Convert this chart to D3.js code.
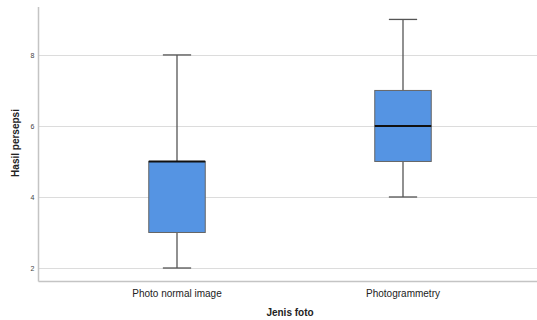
<!DOCTYPE html>
<html><head><meta charset="utf-8">
<script src="https://cdn.jsdelivr.net/npm/d3@7"></script>
<style>body{margin:0;background:#fff}svg{display:block}</style>
</head><body>
<svg id="c" width="537" height="320"></svg>
<script>
const categories = ["Photo normal image", "Photogrammetry"];
const mins = [2, 4];
const q1s = [3, 5];
const medians = [5, 6];
const q3s = [5, 7];
const maxs = [8, 9];
const yTicks = [2, 4, 6, 8];

(function () {
const svg = d3.select("#c");
const mLeft = 38.5, mRight = 537, mTop = 7, mBottom = 281.5;

const y = d3.scaleLinear().domain([1.62, 9.35]).range([mBottom, mTop]);
const x = d3.scaleBand().domain(categories).range([64, 516]).paddingInner(0.75).paddingOuter(0.375);

// grid
svg.append("g").selectAll("line").data(yTicks).join("line")
  .attr("x1", mLeft).attr("x2", mRight)
  .attr("y1", d => Math.round(y(d)) + 0.5).attr("y2", d => Math.round(y(d)) + 0.5)
  .attr("stroke", "#dcdcdc").attr("stroke-width", 1.2);

// y axis
const ya = svg.append("g").attr("transform", `translate(${mLeft},0)`)
  .call(d3.axisLeft(y).tickValues(yTicks).tickSize(0).tickPadding(4).tickFormat(d3.format("d")));
ya.select(".domain").remove();
ya.selectAll("text").attr("font-family", "Liberation Sans, Arial, sans-serif").attr("font-size", 7).attr("fill", "#444");
svg.append("line").attr("x1", mLeft).attr("x2", mLeft).attr("y1", mTop).attr("y2", mBottom)
  .attr("stroke", "#c4c4c4").attr("stroke-width", 1.5);

// x axis
const xa = svg.append("g").attr("transform", `translate(0,${mBottom})`)
  .call(d3.axisBottom(x).tickSize(0).tickPadding(8));
xa.select(".domain").remove();
xa.selectAll("text").attr("font-family", "Liberation Sans, Arial, sans-serif").attr("font-size", 10).attr("fill", "#222");
svg.append("line").attr("x1", mLeft).attr("x2", mRight).attr("y1", mBottom).attr("y2", mBottom)
  .attr("stroke", "#c4c4c4").attr("stroke-width", 1.5);

// boxes
const data = categories.map((c, i) => ({c, min: mins[i], q1: q1s[i], med: medians[i], q3: q3s[i], max: maxs[i]}));
const g = svg.append("g").selectAll("g").data(data).join("g");
const cx = d => x(d.c) + x.bandwidth() / 2;
const capW = x.bandwidth() * 0.5;
g.append("line").attr("x1", cx).attr("x2", cx).attr("y1", d => y(d.min)).attr("y2", d => y(d.q1))
  .attr("stroke", "#555").attr("stroke-width", 1.3);
g.append("line").attr("x1", cx).attr("x2", cx).attr("y1", d => y(d.q3)).attr("y2", d => y(d.max))
  .attr("stroke", "#555").attr("stroke-width", 1.3);
g.append("line").attr("x1", d => cx(d) - capW / 2).attr("x2", d => cx(d) + capW / 2)
  .attr("y1", d => y(d.min)).attr("y2", d => y(d.min)).attr("stroke", "#555").attr("stroke-width", 1.3);
g.append("line").attr("x1", d => cx(d) - capW / 2).attr("x2", d => cx(d) + capW / 2)
  .attr("y1", d => y(d.max)).attr("y2", d => y(d.max)).attr("stroke", "#555").attr("stroke-width", 1.3);
g.append("rect").attr("x", d => x(d.c)).attr("width", x.bandwidth())
  .attr("y", d => y(d.q3)).attr("height", d => y(d.q1) - y(d.q3))
  .attr("fill", "#5594e3").attr("stroke", "#666").attr("stroke-width", 1);
g.append("line").attr("x1", d => x(d.c)).attr("x2", d => x(d.c) + x.bandwidth())
  .attr("y1", d => y(d.med)).attr("y2", d => y(d.med)).attr("stroke", "#111").attr("stroke-width", 2);

// titles
svg.append("text").attr("x", 290).attr("y", 316).attr("text-anchor", "middle")
  .attr("font-family", "Liberation Sans, Arial, sans-serif").attr("font-size", 10).attr("font-weight", "bold")
  .attr("fill", "#222").text("Jenis foto");
svg.append("text").attr("transform", `translate(19,143) rotate(-90)`).attr("text-anchor", "middle")
  .attr("font-family", "Liberation Sans, Arial, sans-serif").attr("font-size", 10).attr("font-weight", "bold")
  .attr("fill", "#222").text("Hasil persepsi");
})();
</script>
</body></html>
